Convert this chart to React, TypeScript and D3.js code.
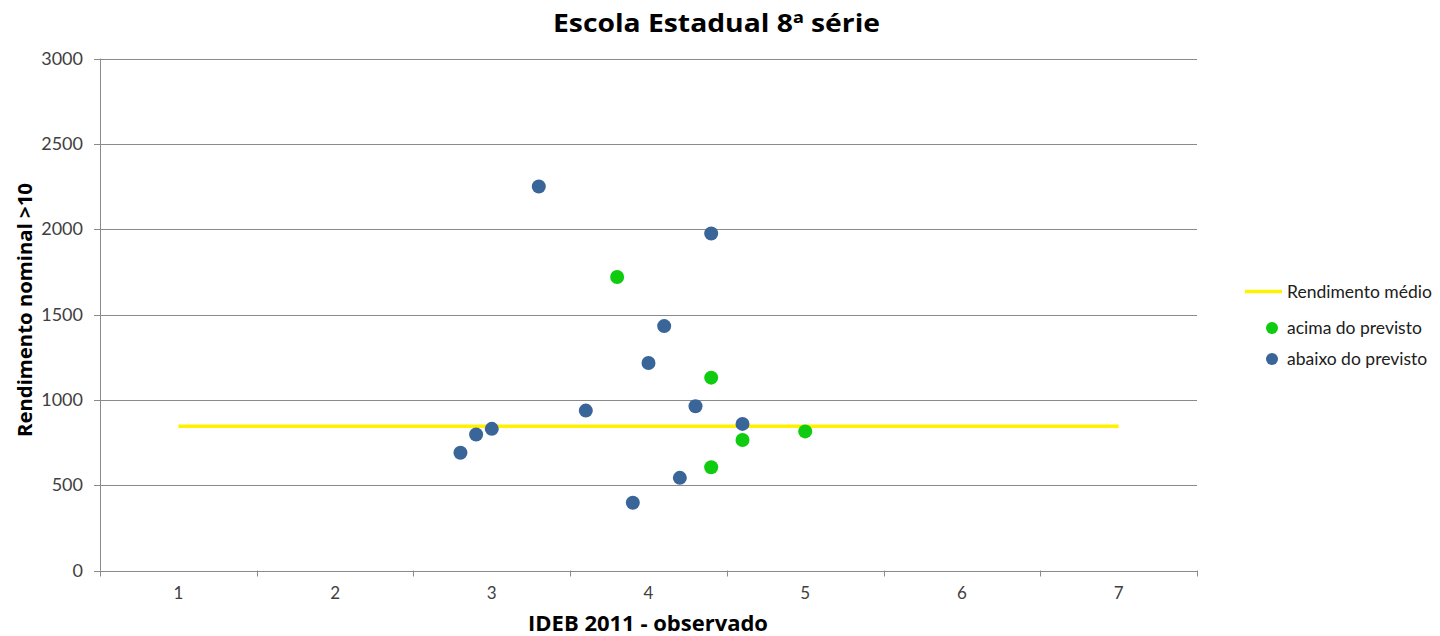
import React from "react";
import * as d3 from "d3";

const titleText = "Escola Estadual 8ª série";
const xLabel = "IDEB 2011 - observado";
const yLabel = "Rendimento nominal  >10";
const xTicks = [1, 2, 3, 4, 5, 6, 7];
const yTicks = [0, 500, 1000, 1500, 2000, 2500, 3000];
const seriesNames = ["Rendimento médio", "acima do previsto", "abaixo do previsto"];

const meanX = [1, 7];
const meanValue = 845;

const acimaX = [3.8, 4.4, 4.6, 5.0, 4.4];
const acimaY = [1720, 1130, 765, 815, 605];

const abaixoX = [3.3, 4.4, 4.1, 4.0, 4.3, 3.6, 4.6, 3.0, 2.9, 2.8, 4.2, 3.9];
const abaixoY = [2250, 1975, 1432, 1216, 962, 937, 859, 830, 797, 690, 543, 397];

const W = 1440;
const H = 636;
const FONT = "Lato, 'Open Sans', sans-serif";
const BOLDFONT = "'Open Sans', Lato, sans-serif";
const BLUE = "#3A6598";
const GREEN = "#10CC10";
const YELLOW = "#FFF200";
const GRID = "#8A8A8A";

export default function App() {
  const x = d3.scaleLinear().domain([0.5, 7.5]).range([100, 1197]);
  const y = d3.scaleLinear().domain([0, 3000]).range([570.5, 58.5]);
  const bandEdges = d3.range(0.5, 7.51, 1);
  const line = d3
    .line<[number, number]>()
    .x((d) => x(d[0]))
    .y((d) => y(d[1]));
  const meanPts: [number, number][] = meanX.map((v) => [v, meanValue]);

  return (
    <svg
      width={W}
      height={H}
      style={{ position: "absolute", left: 0, top: 0, background: "#fff" }}
      fontFamily={FONT}
    >
      <rect x={0} y={0} width={W} height={H} fill="#fff" />
      {/* grid lines */}
      {yTicks.map((t) => (
        <line
          key={"g" + t}
          x1={x(0.5) - 6}
          x2={x(7.5)}
          y1={Math.round(y(t)) + 0.5}
          y2={Math.round(y(t)) + 0.5}
          stroke={GRID}
          strokeWidth={1}
        />
      ))}
      {/* y axis line */}
      <line x1={x(0.5) + 0.5} x2={x(0.5) + 0.5} y1={y(3000)} y2={y(0)} stroke={GRID} strokeWidth={1} />
      {/* x axis ticks */}
      {bandEdges.map((e) => (
        <line
          key={"xt" + e}
          x1={Math.round(x(e)) + 0.5}
          x2={Math.round(x(e)) + 0.5}
          y1={y(0)}
          y2={y(0) + 6}
          stroke={GRID}
          strokeWidth={1}
        />
      ))}
      {/* y tick labels */}
      {yTicks.map((t) => (
        <text
          key={"yl" + t}
          x={83}
          y={y(t)}
          dy="0.35em"
          textAnchor="end"
          fontSize={18}
          fill="#404040"
        >
          {t}
        </text>
      ))}
      {/* x tick labels */}
      {xTicks.map((t) => (
        <text key={"xl" + t} x={x(t)} y={599} textAnchor="middle" fontSize={17} fill="#404040">
          {t}
        </text>
      ))}
      {/* mean line */}
      <path d={line(meanPts) || ""} stroke={YELLOW} strokeWidth={3.5} fill="none" />
      {/* points */}
      {abaixoX.map((v, i) => (
        <circle key={"b" + i} cx={x(v)} cy={y(abaixoY[i])} r={7} fill={BLUE} />
      ))}
      {acimaX.map((v, i) => (
        <circle key={"a" + i} cx={x(v)} cy={y(acimaY[i])} r={7} fill={GREEN} />
      ))}
      {/* title */}
      <text
        x={716.5}
        y={32}
        textAnchor="middle"
        fontSize={25}
        fontWeight="bold"
        fontFamily={BOLDFONT}
        fill="#000"
        textLength={327}
        lengthAdjust="spacingAndGlyphs"
      >
        {titleText}
      </text>
      {/* axis titles */}
      <text
        x={648}
        y={631}
        textAnchor="middle"
        fontSize={21}
        fontWeight="bold"
        fontFamily={BOLDFONT}
        fill="#000"
        textLength={240}
        lengthAdjust="spacingAndGlyphs"
      >
        {xLabel}
      </text>
      <text
        transform={`translate(32, 310) rotate(-90)`}
        textAnchor="middle"
        fontSize={20}
        fontWeight="bold"
        fontFamily={BOLDFONT}
        fill="#000"
        textLength={254}
        lengthAdjust="spacingAndGlyphs"
      >
        {yLabel}
      </text>
      {/* legend */}
      <line x1={1245} x2={1282} y1={291.5} y2={291.5} stroke={YELLOW} strokeWidth={3.5} />
      <text x={1287} y={297.5} fontSize={17.5} fill="#202020">
        {seriesNames[0]}
      </text>
      <circle cx={1272} cy={328} r={6} fill={GREEN} />
      <text x={1287} y={334} fontSize={17.5} fill="#202020">
        {seriesNames[1]}
      </text>
      <circle cx={1272} cy={359} r={6} fill={BLUE} />
      <text x={1287} y={365} fontSize={17.5} fill="#202020">
        {seriesNames[2]}
      </text>
    </svg>
  );
}
